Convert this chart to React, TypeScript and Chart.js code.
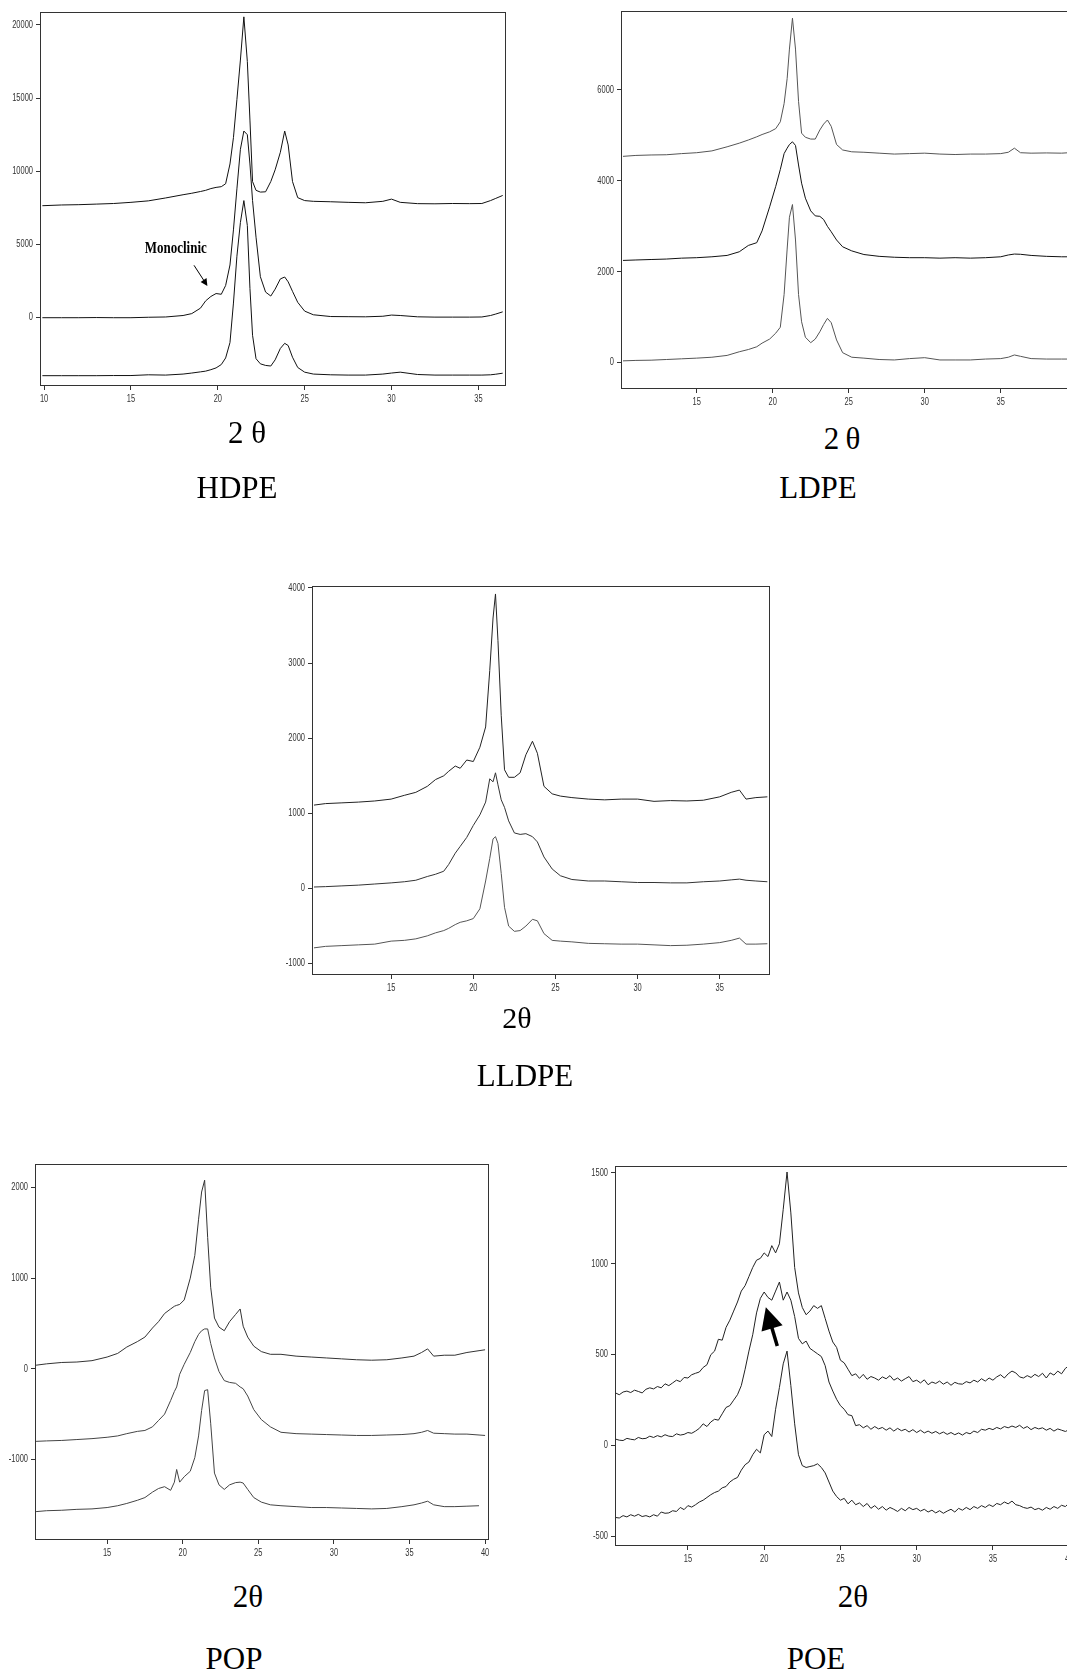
import React, { useEffect, useRef } from "react";
import { Chart, registerables } from "chart.js";
Chart.register(...registerables);

// ---------------- DATA ----------------
// HDPE
const hdpeX = [9.9, 11, 12, 13, 14, 15, 16, 17, 18, 18.5, 19, 19.3, 19.6, 19.9, 20.2, 20.45, 20.7, 20.9, 21.1, 21.3, 21.5, 21.7, 21.85, 22, 22.2, 22.45, 22.75, 23.05, 23.3, 23.6, 23.85, 24.05, 24.3, 24.6, 25, 25.5, 26.5, 27.5, 28.5, 29.5, 30, 30.5, 31.5, 32.5, 33.5, 34.5, 35.2, 35.7, 36, 36.4];
const hdpeA = [7650, 7700, 7720, 7760, 7800, 7880, 7980, 8180, 8400, 8500, 8620, 8700, 8820, 8900, 8950, 9150, 10500, 12300, 14900, 17600, 20550, 17500, 13500, 9300, 8700, 8580, 8600, 9300, 10100, 11300, 12750, 11800, 9300, 8200, 8000, 7950, 7920, 7880, 7850, 7950, 8100, 7880, 7790, 7780, 7800, 7790, 7800, 8000, 8150, 8350];
const hdpeB = [0, 0, 0, 10, 0, 0, 30, 50, 150, 280, 650, 1150, 1450, 1650, 1600, 2200, 3600, 6000, 8800, 11500, 12750, 12500, 10500, 8000, 5500, 2800, 1750, 1480, 1950, 2650, 2780, 2450, 1800, 1050, 450, 200, 80, 70, 60, 100, 180, 150, 60, 40, 40, 40, 50, 150, 250, 400];
const hdpeC = [-3960, -3960, -3960, -3960, -3950, -3950, -3900, -3920, -3850, -3780, -3700, -3650, -3550, -3430, -3200, -2750, -1700, 1000, 4200, 6500, 8000, 6300, 2000, -1200, -2800, -3150, -3260, -3300, -2880, -2100, -1750, -1900, -2700, -3400, -3720, -3850, -3900, -3920, -3920, -3850, -3780, -3720, -3880, -3920, -3920, -3920, -3920, -3900, -3860, -3790];
const hdpeXTicks = [10, 15, 20, 25, 30, 35];
const hdpeYTicks = [0, 5000, 10000, 15000, 20000];

// LDPE
const ldpeX = [10.15, 11, 12, 13, 14, 15, 16, 17, 17.8, 18.4, 18.95, 19.3, 19.8, 20.2, 20.5, 20.75, 20.95, 21.1, 21.3, 21.5, 21.7, 21.9, 22.15, 22.5, 22.8, 23.1, 23.35, 23.6, 23.85, 24.2, 24.6, 25.2, 26, 27, 28, 29, 30, 31, 32, 33, 34, 35, 35.5, 35.9, 36.3, 37, 38, 39, 39.5, 40];
const ldpeA = [4540, 4560, 4570, 4575, 4600, 4620, 4660, 4750, 4830, 4900, 4970, 5020, 5080, 5150, 5300, 5700, 6250, 6900, 7580, 6900, 5750, 5050, 4960, 4920, 4920, 5120, 5250, 5340, 5200, 4800, 4680, 4640, 4630, 4610, 4590, 4600, 4610, 4590, 4580, 4590, 4590, 4600, 4630, 4720, 4620, 4610, 4615, 4610, 4620, 4610];
const ldpeB = [2250, 2260, 2270, 2280, 2300, 2310, 2330, 2360, 2440, 2580, 2640, 2900, 3430, 3880, 4250, 4600, 4720, 4800, 4860, 4780, 4350, 3950, 3620, 3340, 3230, 3220, 3150, 3000, 2880, 2700, 2550, 2460, 2380, 2340, 2320, 2310, 2310, 2300, 2310, 2300, 2310, 2330, 2370, 2390, 2385, 2360, 2340, 2330, 2330, 2330];
const ldpeC = [40, 50, 55, 70, 85, 100, 120, 160, 240, 290, 350, 430, 520, 650, 780, 1500, 2500, 3200, 3480, 2700, 1500, 900, 560, 440, 520, 680, 840, 975, 880, 500, 220, 120, 100, 70, 60, 90, 110, 60, 60, 60, 80, 90, 120, 170, 140, 90, 80, 80, 80, 80];
const ldpeXTicks = [15, 20, 25, 30, 35, 40];
const ldpeYTicks = [0, 2000, 4000, 6000];

// LLDPE
const lldpeX = [10.3, 11, 12, 13, 14, 15, 15.8, 16.5, 17.2, 17.7, 18.2, 18.5, 18.9, 19.2, 19.6, 20, 20.4, 20.75, 21, 21.2, 21.35, 21.5, 21.7, 21.9, 22.15, 22.5, 22.85, 23.2, 23.6, 23.9, 24.3, 24.8, 25.3, 26, 27, 28, 29, 30, 31, 32, 33, 34, 35, 35.7, 36.2, 36.6, 37.2, 37.9];
const lldpeA = [1110, 1130, 1140, 1150, 1165, 1190, 1240, 1280, 1360, 1450, 1500, 1560, 1630, 1600, 1710, 1690, 1880, 2150, 2900, 3600, 3920, 3300, 2300, 1580, 1480, 1480, 1540, 1780, 1960, 1800, 1360, 1260, 1230, 1210, 1190, 1180, 1190, 1190, 1160, 1170, 1165, 1175, 1220, 1280, 1310, 1190, 1210, 1220];
const lldpeB = [20, 25, 35, 45, 60, 75, 90, 110, 160, 190, 230, 320, 470, 560, 680, 840, 980, 1150, 1460, 1420, 1540, 1380, 1180, 1080, 900, 740, 720, 730, 690, 620, 420, 260, 170, 120, 100, 100, 90, 80, 80, 75, 75, 90, 100, 115, 125, 110, 100, 90];
const lldpeC = [-790, -770, -760, -750, -740, -700, -690, -670, -630, -590, -560, -530, -480, -450, -430, -400, -270, 100, 400, 660, 690, 600, 200, -250, -500, -570, -560, -500, -410, -430, -600, -690, -700, -710, -730, -735, -740, -740, -750, -760, -755, -740, -720, -690, -660, -740, -740, -735];
const lldpeXTicks = [15, 20, 25, 30, 35];
const lldpeYTicks = [-1000, 0, 1000, 2000, 3000, 4000];

// POP
const popX = [10.3, 11, 12, 13, 14, 15, 15.7, 16.3, 17, 17.5, 18, 18.4, 18.8, 19.2, 19.45, 19.6, 19.8, 20.1, 20.5, 20.8, 21.05, 21.25, 21.45, 21.65, 21.85, 22.1, 22.4, 22.75, 23.1, 23.5, 23.8, 24.0, 24.3, 24.7, 25.2, 25.8, 26.5, 27.5, 28.5, 29.5, 30.5, 31.5, 32.5, 33.5, 34.5, 35.3, 35.8, 36.2, 36.6, 37.3, 38, 38.8, 39.6, 40];
const popA = [40, 55, 70, 75, 90, 130, 170, 240, 300, 350, 450, 520, 610, 660, 690, 700, 710, 760, 1000, 1250, 1650, 1950, 2080, 1450, 900, 560, 460, 420, 520, 600, 660, 470, 350, 250, 190, 160, 160, 140, 130, 120, 110, 100, 95, 100, 120, 140, 180, 220, 140, 150, 150, 180, 200, 210];
const popB = [-800, -795, -790, -780, -770, -755, -740, -715, -690, -680, -640, -570, -500, -350, -250, -200, -60, 50, 180, 300, 380, 420, 440, 440, 280, 120, -30, -130, -150, -160, -200, -220, -300, -450, -560, -640, -700, -715, -720, -725, -730, -735, -735, -730, -725, -715, -700, -680, -710, -715, -720, -720, -730, -735];
const popC = [-1575, -1565, -1560, -1550, -1545, -1530, -1510, -1485, -1450, -1420, -1360, -1320, -1300, -1340, -1250, -1110, -1250, -1190, -1130, -980, -740, -460, -240, -230, -600, -1150, -1280, -1330, -1280, -1255, -1250, -1260, -1330, -1420, -1470, -1500, -1510, -1520, -1530, -1530, -1535, -1540, -1545, -1540, -1520, -1500, -1480, -1460, -1500, -1520, -1520, -1515, -1510, null];
const popXTicks = [15, 20, 25, 30, 35, 40];
const popYTicks = [-1000, 0, 1000, 2000];

// POE
const poeX = [10.25, 10.5, 10.75, 11, 11.25, 11.5, 11.75, 12, 12.25, 12.5, 12.75, 13, 13.25, 13.5, 13.75, 14, 14.25, 14.5, 14.75, 15, 15.25, 15.5, 15.75, 16, 16.25, 16.5, 16.75, 17, 17.25, 17.5, 17.75, 18, 18.25, 18.5, 18.75, 19, 19.25, 19.5, 19.75, 20, 20.25, 20.5, 20.75, 21, 21.25, 21.5, 21.75, 22, 22.25, 22.5, 22.75, 23, 23.25, 23.5, 23.75, 24, 24.25, 24.5, 24.75, 25, 25.25, 25.5, 25.75, 26, 26.25, 26.5, 26.75, 27, 27.25, 27.5, 27.75, 28, 28.25, 28.5, 28.75, 29, 29.25, 29.5, 29.75, 30, 30.25, 30.5, 30.75, 31, 31.25, 31.5, 31.75, 32, 32.25, 32.5, 32.75, 33, 33.25, 33.5, 33.75, 34, 34.25, 34.5, 34.75, 35, 35.25, 35.5, 35.75, 36, 36.25, 36.5, 36.75, 37, 37.25, 37.5, 37.75, 38, 38.25, 38.5, 38.75, 39, 39.25, 39.5, 39.75, 40, 40.25];
const poeA = [290, 280, 295, 300, 292, 305, 298, 290, 310, 318, 312, 325, 318, 340, 330, 345, 360, 352, 375, 372, 390, 398, 405, 430, 445, 500, 520, 585, 580, 650, 690, 740, 790, 850, 880, 930, 980, 1020, 1030, 1060, 1040, 1100, 1060, 1110, 1300, 1505, 1280, 980, 840, 760, 720, 740, 770, 755, 770, 700, 630, 570, 540, 470, 455, 420, 385, 395, 370, 392, 365, 380, 372, 360, 378, 368, 385, 360, 372, 355, 368, 380, 352, 360, 345, 362, 335, 350, 342, 355, 338, 350, 332, 348, 340, 338, 352, 345, 360, 350, 368, 355, 372, 360, 378, 390, 372, 395, 410, 400, 378, 372, 385, 375, 392, 380, 398, 372, 400, 388, 410, 395, 425, 440, 450];
const poeB = [36, 30, 28, 40, 35, 32, 45, 38, 40, 52, 45, 55, 48, 60, 52, 50, 65, 58, 62, 72, 68, 80, 95, 120, 105, 130, 145, 140, 175, 210, 220, 250, 280, 330, 420, 520, 610, 730, 810, 845, 815, 800, 850, 900, 800, 845, 800, 710, 590, 560, 575, 535, 520, 505, 490, 440, 350, 300, 255, 220, 200, 170, 165, 110, 115, 98, 110, 90, 105, 92, 100, 85, 98, 80, 95, 82, 90, 75, 88, 72, 85, 70, 80, 68, 78, 65, 75, 62, 72, 60, 70, 58, 72, 65, 80, 72, 90, 85, 95, 88, 100, 92, 105, 98, 108, 100, 112, 95, 105, 88, 100, 92, 98, 85, 95, 80, 92, 85, 78, 88, 80];
const poeC = [-395, -398, -385, -392, -380, -388, -378, -390, -385, -392, -380, -388, -365, -372, -370, -358, -362, -340, -352, -330, -338, -325, -310, -300, -285, -270, -258, -250, -232, -225, -200, -185, -175, -135, -105, -90, -50, -20, -40, 60, 80, 50, 200, 320, 450, 520, 330, 120, -50, -110, -120, -115, -110, -100, -120, -150, -200, -250, -280, -300, -290, -320, -300, -325, -315, -335, -318, -345, -330, -350, -335, -355, -340, -350, -362, -345, -358, -340, -352, -345, -360, -350, -365, -355, -370, -358, -372, -360, -350, -365, -345, -355, -340, -352, -335, -345, -330, -340, -325, -335, -318, -325, -310, -320, -305, -325, -330, -340, -345, -338, -352, -345, -355, -340, -350, -335, -345, -328, -335, -315, -310];
const poeXTicks = [15, 20, 25, 30, 35, 40];
const poeYTicks = [-500, 0, 500, 1000, 1500];

// Annotation anchors (data coordinates)
const monoLabelAt = [17.58, 4711];
const monoArrowFrom = [18.63, 3579];
const monoArrowTo = [19.4, 2174];
const poeArrowFrom = [20.86, 548];
const poeArrowTo = [20.11, 761];

// ---------------- DRAWING ----------------
const PAD_L = 50, PAD_T = 10, PAD_R = 15, PAD_B = 30;
const AXIS = "#333";
const TICK_FONT = "10px 'Liberation Sans', Arial, sans-serif";
const TICK_SQUEEZE = 0.75;

type Box = { l: number; t: number; r: number; b: number };
type Extra = (ctx: CanvasRenderingContext2D, xs: any, ys: any) => void;

function drawArrow(ctx: CanvasRenderingContext2D, x0: number, y0: number, x1: number, y1: number, lw: number, headLen: number, headHalf: number) {
  const dx = x1 - x0, dy = y1 - y0;
  const len = Math.hypot(dx, dy);
  const ux = dx / len, uy = dy / len;
  const bx = x1 - ux * headLen, by = y1 - uy * headLen;
  ctx.beginPath();
  ctx.moveTo(x0, y0);
  ctx.lineTo(bx + ux * 1, by + uy * 1);
  ctx.lineWidth = lw;
  ctx.strokeStyle = "#000";
  ctx.stroke();
  ctx.beginPath();
  ctx.moveTo(x1, y1);
  ctx.lineTo(bx - uy * headHalf, by + ux * headHalf);
  ctx.lineTo(bx + uy * headHalf, by - ux * headHalf);
  ctx.closePath();
  ctx.fillStyle = "#000";
  ctx.fill();
}

const hdpeExtra: Extra = (ctx, xs, ys) => {
  const tx = xs.getPixelForValue(monoLabelAt[0]);
  const ty = ys.getPixelForValue(monoLabelAt[1]);
  ctx.save();
  ctx.translate(tx, ty);
  ctx.scale(1, 1.35);
  ctx.font = "bold 13px 'Liberation Serif', 'Times New Roman', serif";
  ctx.textAlign = "center";
  ctx.textBaseline = "middle";
  ctx.fillStyle = "#000";
  ctx.fillText("Monoclinic", 0, 0);
  ctx.restore();
  drawArrow(ctx, xs.getPixelForValue(monoArrowFrom[0]), ys.getPixelForValue(monoArrowFrom[1]), xs.getPixelForValue(monoArrowTo[0]), ys.getPixelForValue(monoArrowTo[1]), 1, 7, 3.5);
};

const poeExtra: Extra = (ctx, xs, ys) => {
  drawArrow(ctx, xs.getPixelForValue(poeArrowFrom[0]), ys.getPixelForValue(poeArrowFrom[1]), xs.getPixelForValue(poeArrowTo[0]), ys.getPixelForValue(poeArrowTo[1]), 3.5, 22, 11);
};

type PanelProps = {
  box: Box;
  xRange: [number, number];
  yRange: [number, number];
  xTicks: number[];
  yTicks: number[];
  xs: number[];
  series: (number | null)[][];
  colors: string[];
  extra?: Extra;
};

function Panel({ box, xRange, yRange, xTicks, yTicks, xs, series, colors, extra }: PanelProps) {
  const ref = useRef<HTMLCanvasElement>(null);
  useEffect(() => {
    const canvas = ref.current!;
    const chart = new Chart(canvas, {
      type: "line",
      data: {
        datasets: series.map((ys, k) => ({
          data: xs.map((x, i) => ({ x, y: ys[i] })),
          borderColor: colors[k],
          borderWidth: 1,
          pointRadius: 0,
          fill: false,
          tension: 0,
          spanGaps: false,
        })),
      },
      options: {
        responsive: false,
        animation: false,
        devicePixelRatio: 1,
        events: [],
        layout: { padding: { left: 0, top: PAD_T, right: PAD_R, bottom: 0 } },
        plugins: { legend: { display: false }, tooltip: { enabled: false }, title: { display: false } },
        scales: {
          x: {
            type: "linear",
            min: xRange[0],
            max: xRange[1],
            afterBuildTicks: (s: any) => { s.ticks = xTicks.map((v) => ({ value: v })); },
            afterFit: (s: any) => { s.height = PAD_B; },
            ticks: { display: false, autoSkip: false },
            grid: { display: true, drawOnChartArea: false, drawTicks: true, tickLength: 4, color: AXIS, lineWidth: 1 },
            border: { display: false },
          },
          y: {
            type: "linear",
            min: yRange[0],
            max: yRange[1],
            afterBuildTicks: (s: any) => { s.ticks = yTicks.map((v) => ({ value: v })); },
            afterFit: (s: any) => { s.width = PAD_L; },
            ticks: { display: false, autoSkip: false },
            grid: { display: true, drawOnChartArea: false, drawTicks: true, tickLength: 4, color: AXIS, lineWidth: 1 },
            border: { display: false },
          },
        },
      },
      plugins: [
        {
          id: "frame",
          afterDraw(c: any) {
            const { ctx, chartArea: a } = c;
            const sx = c.scales.x, sy = c.scales.y;
            ctx.save();
            ctx.strokeStyle = AXIS;
            ctx.lineWidth = 1;
            ctx.strokeRect(a.left + 0.5, a.top + 0.5, a.right - a.left - 1, a.bottom - a.top - 1);
            // tick labels (narrow, like the original)
            ctx.font = TICK_FONT;
            ctx.fillStyle = "#333";
            for (const v of yTicks) {
              const py = sy.getPixelForValue(v);
              ctx.save();
              ctx.translate(a.left - 7, py);
              ctx.scale(TICK_SQUEEZE, 1);
              ctx.textAlign = "right";
              ctx.textBaseline = "middle";
              ctx.fillText(String(v), 0, 0);
              ctx.restore();
            }
            for (const v of xTicks) {
              const px = sx.getPixelForValue(v);
              ctx.save();
              ctx.translate(px, a.bottom + 15.5);
              ctx.scale(TICK_SQUEEZE, 1);
              ctx.textAlign = "center";
              ctx.textBaseline = "alphabetic";
              ctx.fillText(String(v), 0, 0);
              ctx.restore();
            }
            if (extra) extra(ctx, sx, sy);
            ctx.restore();
          },
        },
      ],
    } as any);
    return () => chart.destroy();
  }, []);
  const w = box.r - box.l + PAD_L + PAD_R;
  const h = box.b - box.t + PAD_T + PAD_B;
  return (
    <canvas
      ref={ref}
      width={w}
      height={h}
      style={{ position: "absolute", left: box.l - PAD_L, top: box.t - PAD_T, width: w, height: h }}
    />
  );
}

const SERIF = "'Liberation Serif', 'Times New Roman', serif";

function Label({ cx, baseline, text, size = 31 }: { cx: number; baseline: number; text: string; size?: number }) {
  return (
    <div
      style={{
        position: "absolute",
        left: cx - 150,
        width: 300,
        top: baseline - 0.8375 * size,
        textAlign: "center",
        fontFamily: SERIF,
        fontSize: size,
        lineHeight: 1,
        color: "#000",
        whiteSpace: "pre",
      }}
    >
      {text}
    </div>
  );
}

export default function App() {
  return (
    <div style={{ position: "absolute", left: 0, top: 0, width: 1067, height: 1676, overflow: "hidden", background: "#fff" }}>
      <Panel
        box={{ l: 40, t: 12, r: 506, b: 386 }}
        xRange={[9.764, 36.59]}
        yRange={[-4665, 20881]}
        xTicks={hdpeXTicks}
        yTicks={hdpeYTicks}
        xs={hdpeX}
        series={[hdpeA, hdpeB, hdpeC]}
        colors={["#111", "#111", "#111"]}
        extra={hdpeExtra}
      />
      <Panel
        box={{ l: 621, t: 11, r: 1079, b: 389 }}
        xRange={[10.02, 40.15]}
        yRange={[-579, 7738]}
        xTicks={ldpeXTicks}
        yTicks={ldpeYTicks}
        xs={ldpeX}
        series={[ldpeA, ldpeB, ldpeC]}
        colors={["#555", "#111", "#555"]}
      />
      <Panel
        box={{ l: 312, t: 586, r: 770, b: 975 }}
        xRange={[10.18, 38.06]}
        yRange={[-1151, 4026]}
        xTicks={lldpeXTicks}
        yTicks={lldpeYTicks}
        xs={lldpeX}
        series={[lldpeA, lldpeB, lldpeC]}
        colors={["#222", "#333", "#555"]}
      />
      <Panel
        box={{ l: 35, t: 1164, r: 489, b: 1540 }}
        xRange={[10.23, 40.26]}
        yRange={[-1888, 2259]}
        xTicks={popXTicks}
        yTicks={popYTicks}
        xs={popX}
        series={[popA, popB, popC]}
        colors={["#333", "#444", "#444"]}
      />
      <Panel
        box={{ l: 615, t: 1166, r: 1073, b: 1546 }}
        xRange={[10.22, 40.25]}
        yRange={[-552, 1538]}
        xTicks={poeXTicks}
        yTicks={poeYTicks}
        xs={poeX}
        series={[poeA, poeB, poeC]}
        colors={["#222", "#222", "#222"]}
        extra={poeExtra}
      />
      <Label cx={247} baseline={443} text="2 θ" />
      <Label cx={237} baseline={498} text="HDPE" />
      <Label cx={842} baseline={449} text={"2\u2009θ"} />
      <Label cx={818} baseline={498} text="LDPE" />
      <Label cx={517} baseline={1028} text="2θ" size={30} />
      <Label cx={525} baseline={1086} text="LLDPE" />
      <Label cx={248} baseline={1607} text="2θ" />
      <Label cx={234} baseline={1669} text="POP" />
      <Label cx={853} baseline={1607} text="2θ" />
      <Label cx={816} baseline={1669} text="POE" />
    </div>
  );
}
